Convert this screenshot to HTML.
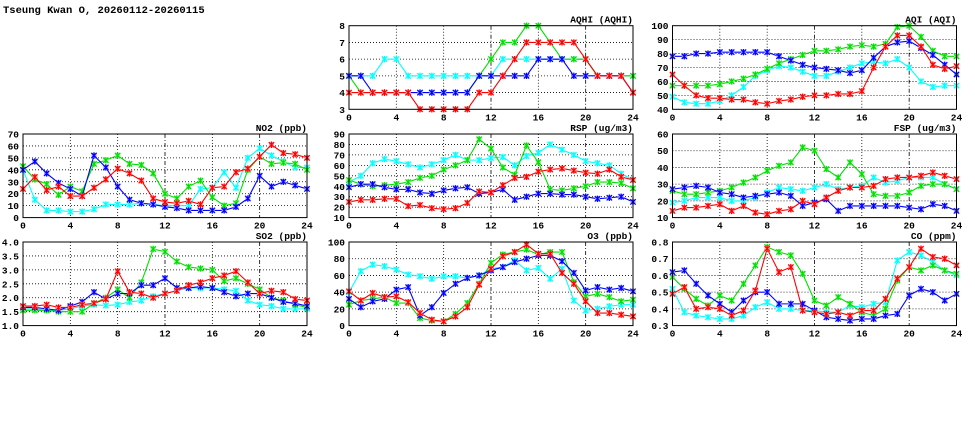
<!DOCTYPE html>
<html><head><meta charset="utf-8"><style>
html,body{margin:0;padding:0;background:#fff;width:975px;height:447px;overflow:hidden}
svg text{font-family:"Liberation Mono","DejaVu Sans Mono",monospace;font-weight:bold;font-size:9.5px;fill:#000}
</style></head><body>
<svg id="s" width="975" height="447" xmlns="http://www.w3.org/2000/svg">
<text x="3" y="13" style="font-size:10.5px">Tseung Kwan O, 20260112-20260115</text>
</svg>
<script>
const P=[
{t:"AQHI (AQHI)",c:1,r:0,min:3,max:8,step:1,dec:0,d:{
c:[5,5,5,6,6,5,5,5,5,5,5,5,5,6,6,6,6,6,6,6,6,5,5,5,5],
g:[5,4,4,4,4,4,4,4,4,4,4,5,6,7,7,8,8,7,6,6,6,5,5,5,5],
b:[5,5,4,4,4,4,4,4,4,4,4,5,5,5,5,5,6,6,6,5,5,5,5,5,4],
r:[4,4,4,4,4,4,3,3,3,3,3,4,4,5,6,7,7,7,7,7,6,5,5,5,4]}},
{t:"AQI (AQI)",c:2,r:0,min:40,max:100,step:10,dec:0,d:{
c:[49,45,44,44,46,50,56,64,68,71,70,67,64,64,67,70,73,74,73,76,70,60,56,57,57],
g:[57,57,57,57,58,60,62,65,69,73,76,79,82,82,83,85,86,85,87,99,100,92,82,78,78],
b:[78,78,80,80,81,81,81,81,81,78,75,72,70,69,68,66,68,77,85,88,89,84,79,72,65],
r:[65,57,50,48,48,47,47,45,44,46,47,49,50,50,51,51,53,70,85,93,93,85,72,69,71]}},
{t:"NO2 (ppb)",c:0,r:1,min:0,max:70,step:10,dec:0,d:{
c:[40,15,6,6,5,5,7,11,11,11,12,11,10,10,10,24,25,38,25,50,58,52,47,42,42],
g:[43,32,28,19,26,22,45,48,52,45,44,37,20,16,26,31,17,10,12,40,51,45,46,45,40],
b:[40,47,37,29,24,18,52,42,26,15,12,11,9,8,6,6,6,6,9,16,35,26,30,27,24],
r:[24,34,23,26,18,18,25,32,41,37,31,16,13,12,14,11,25,26,38,41,51,61,54,53,50]}},
{t:"RSP (ug/m3)",c:1,r:1,min:10,max:90,step:10,dec:0,d:{
c:[44,50,62,66,64,61,58,61,65,70,65,65,67,68,60,69,72,80,75,70,64,62,60,52,46],
g:[46,42,40,41,42,44,48,50,56,60,65,85,76,58,51,79,63,37,36,38,40,44,44,43,38],
b:[39,42,42,39,37,37,34,33,36,38,39,33,34,37,27,30,33,33,32,32,30,28,29,30,25],
r:[25,27,27,28,28,21,22,19,18,19,24,35,34,41,48,49,54,56,57,55,53,52,56,49,46]}},
{t:"FSP (ug/m3)",c:2,r:1,min:10,max:60,step:10,dec:0,d:{
c:[19,20,22,22,22,20,20,22,25,28,27,26,28,30,27,28,29,34,31,32,34,34,34,30,27],
g:[26,24,24,25,26,28,31,34,38,41,43,52,50,39,34,43,36,24,23,23,25,29,30,30,27],
b:[27,28,29,28,25,24,22,23,24,25,23,17,19,21,14,17,17,17,17,17,16,15,18,17,14],
r:[14,16,16,17,18,14,17,13,12,14,15,20,18,22,26,28,28,29,33,34,34,35,37,35,33]}},
{t:"SO2 (ppb)",c:0,r:2,min:1,max:4,step:0.5,dec:1,d:{
c:[1.6,1.6,1.55,1.55,1.6,1.7,1.75,1.72,1.75,1.85,1.9,2.05,2.15,2.25,2.35,2.35,2.35,2.3,2.25,1.9,1.75,1.7,1.6,1.6,1.6],
g:[1.55,1.55,1.55,1.5,1.5,1.5,1.8,2.0,2.3,2.0,2.55,3.75,3.65,3.3,3.1,3.05,3.0,2.6,2.7,2.5,2.3,2.0,1.9,1.75,1.65],
b:[1.65,1.65,1.6,1.55,1.7,1.85,2.2,1.95,2.15,2.15,2.45,2.45,2.7,2.35,2.35,2.4,2.35,2.2,2.05,2.15,2.15,2.0,1.85,1.8,1.7],
r:[1.7,1.7,1.75,1.65,1.65,1.75,1.8,1.95,2.95,2.2,2.15,2.0,2.15,2.25,2.45,2.55,2.7,2.8,2.95,2.55,2.15,2.25,2.2,1.95,1.9]}},
{t:"O3 (ppb)",c:1,r:2,min:0,max:100,step:20,dec:0,d:{
c:[40,65,73,71,67,61,59,56,59,59,57,60,68,70,78,66,69,56,68,30,18,20,23,25,25],
g:[25,30,32,34,27,27,9,6,5,14,27,50,75,85,88,91,85,88,88,52,35,38,34,29,31],
b:[32,22,29,32,43,46,12,22,39,50,57,60,66,70,76,80,84,84,77,63,42,46,43,45,41],
r:[41,30,39,34,35,28,15,7,5,11,22,49,68,83,88,97,86,86,63,50,29,15,15,13,11]}},
{t:"CO (ppm)",c:2,r:2,min:0.3,max:0.8,step:0.1,dec:1,d:{
c:[.52,.38,.36,.35,.34,.34,.36,.41,.44,.40,.40,.39,.39,.38,.38,.42,.41,.43,.44,.69,.74,.72,.68,.63,.60],
g:[.59,.52,.46,.42,.48,.45,.55,.66,.77,.74,.72,.61,.45,.42,.47,.43,.38,.36,.40,.57,.65,.63,.66,.63,.61],
b:[.62,.63,.55,.48,.43,.38,.45,.50,.50,.43,.43,.43,.39,.35,.34,.33,.34,.34,.36,.37,.48,.52,.50,.45,.49],
r:[.49,.53,.40,.41,.40,.36,.39,.51,.76,.62,.65,.39,.38,.37,.38,.36,.39,.39,.46,.58,.65,.76,.71,.70,.66]}}
];
const CX=[23,349,672.5],RY=[25.7,134,242],W=284,H=83.6;
const COL={c:"#00ffff",g:"#00e000",b:"#0000ff",r:"#ff0000"};
const LT={c:"#a0ffff",g:"#a0f0a0",b:"#a0a0ff",r:"#ffa0a0"};
let o="";
for(const p of P){
 const x0=CX[p.c],y0=RY[p.r];
 const X=h=>x0+h*W/24, Y=v=>y0+H-(v-p.min)/(p.max-p.min)*H;
 o+=`<text x="${x0+W}" y="${y0-3}" text-anchor="end">${p.t}</text>`;
 for(let h=4;h<24;h+=4)o+=`<line x1="${X(h)}" y1="${y0}" x2="${X(h)}" y2="${y0+H}" stroke="#000" stroke-width="0.8" stroke-dasharray="${(h==12||h==20)?'4,2,1,2':'1,2'}"/>`;
 const n=Math.round((p.max-p.min)/p.step);
 for(let i=0;i<=n;i++){const v=p.min+i*p.step,y=Y(v);
  if(i>0&&i<n)o+=`<line x1="${x0}" y1="${y}" x2="${x0+W}" y2="${y}" stroke="#000" stroke-width="0.8" stroke-dasharray="1,2"/>`;
  o+=`<text x="${x0-4}" y="${y+3.5}" text-anchor="end">${v.toFixed(p.dec)}</text>`;}
 for(let h=0;h<=24;h+=4)o+=`<text x="${X(h)}" y="${y0+H+11}" text-anchor="middle">${h}</text>`;
 for(const k of ["c","g","b","r"]){const a=p.d[k];
  o+=`<polyline fill="none" stroke="${COL[k]}" stroke-width="1.1" points="${a.map((v,i)=>X(i)+","+Y(v)).join(" ")}"/>`;
  for(let i=0;i<a.length;i++){const x=X(i),y=Y(a[i]);
   o+=`<rect x="${x-2.5}" y="${y-2.5}" width="5" height="5" fill="${LT[k]}"/><path d="M${x-2.7} ${y-2.7}L${x+2.7} ${y+2.7}M${x-2.7} ${y+2.7}L${x+2.7} ${y-2.7}M${x} ${y-3.2}V${y+3.2}" stroke="${COL[k]}" stroke-width="1.2"/>`;}
 }
 o+=`<rect x="${x0}" y="${y0}" width="${W}" height="${H}" fill="none" stroke="#000" stroke-width="1"/>`;
}
document.getElementById("s").insertAdjacentHTML("beforeend",o);
</script>
</body></html>
